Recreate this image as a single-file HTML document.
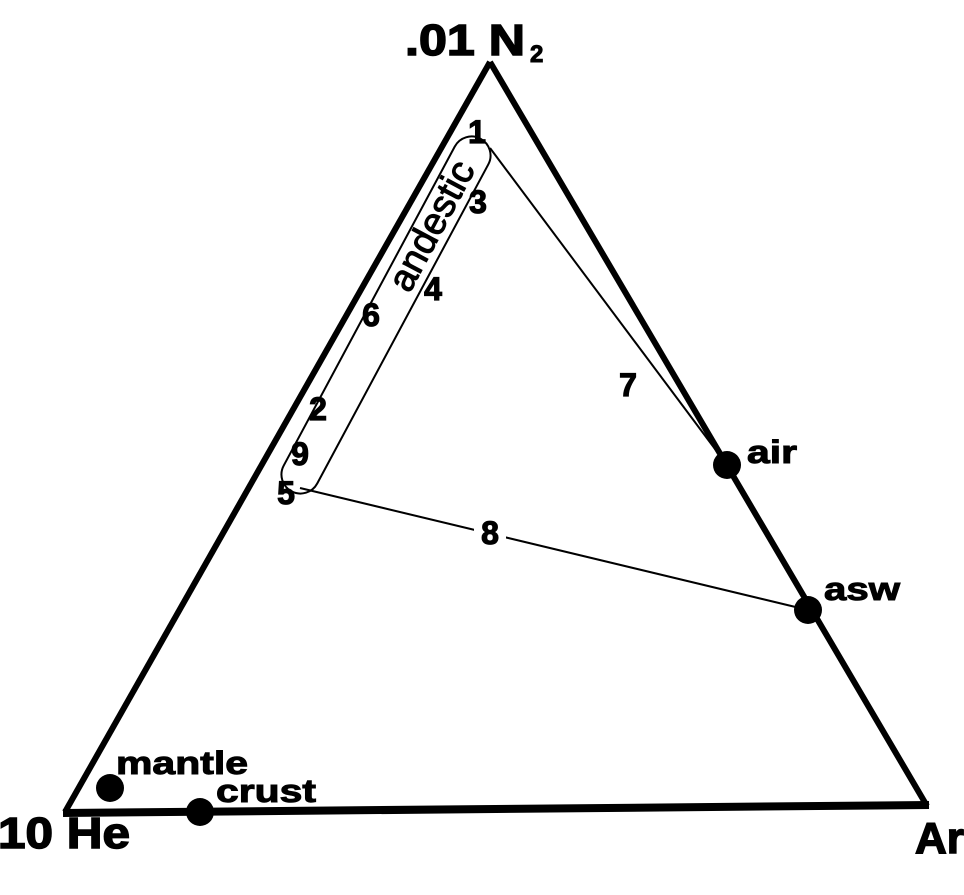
<!DOCTYPE html>
<html><head><style>body{margin:0;background:#fff}svg{display:block}</style></head>
<body>
<svg width="964" height="895" viewBox="0 0 964 895" xmlns="http://www.w3.org/2000/svg" font-family="Liberation Sans, sans-serif">
<rect width="964" height="895" fill="#fff"/>
<line x1="490" y1="62" x2="65" y2="812" stroke="#000" stroke-width="6"/>
<line x1="490" y1="62" x2="927" y2="806" stroke="#000" stroke-width="6"/>
<line x1="63" y1="813" x2="929" y2="805" stroke="#000" stroke-width="8"/>
<rect x="186" y="-19" width="400" height="38" rx="19" fill="none" stroke="#000" stroke-width="2" transform="translate(386,315) rotate(-61.8) translate(-386,0)"/>
<line x1="490" y1="148" x2="727" y2="465" stroke="#000" stroke-width="2"/>
<line x1="300" y1="488" x2="808" y2="610" stroke="#000" stroke-width="2"/>
<circle cx="727" cy="465" r="14" fill="#000"/>
<circle cx="808" cy="610" r="14" fill="#000"/>
<circle cx="110" cy="788" r="14" fill="#000"/>
<circle cx="200" cy="812" r="14" fill="#000"/>
<g font-weight="bold" font-size="32" text-anchor="middle" stroke="#000" stroke-width="1.2">
<text x="477" y="143">1</text>
<text x="478" y="213">3</text>
<text x="433" y="300">4</text>
<text x="371" y="326">6</text>
<text x="318" y="420">2</text>
<text x="300" y="465">9</text>
<text x="286" y="504">5</text>
<text x="628" y="396">7</text>
<rect x="474" y="514" width="32" height="34" fill="#fff" stroke="none"/>
<text x="490" y="544">8</text>
</g>
<text x="0" y="12" font-size="38" text-anchor="middle" stroke="#000" stroke-width="1" transform="translate(432,226) rotate(-62)">andestic</text>
<g font-weight="bold" font-size="32" stroke="#000" stroke-width="1">
<text x="747" y="463" textLength="50" lengthAdjust="spacingAndGlyphs">air</text>
<text x="824" y="600" textLength="76" lengthAdjust="spacingAndGlyphs">asw</text>
<text x="116" y="774" textLength="132" lengthAdjust="spacingAndGlyphs">mantle</text>
<text x="216" y="802" textLength="100" lengthAdjust="spacingAndGlyphs">crust</text>
</g>
<g font-weight="bold" font-size="44" stroke="#000" stroke-width="1.5">
<text x="405" y="55" textLength="120" lengthAdjust="spacingAndGlyphs">.01 N</text>
<text x="530" y="62" font-size="24" stroke-width="1">2</text>
<text x="-2" y="848" textLength="132" lengthAdjust="spacingAndGlyphs">10 He</text>
<text x="915" y="853">Ar</text>
</g>
</svg>
</body></html>
